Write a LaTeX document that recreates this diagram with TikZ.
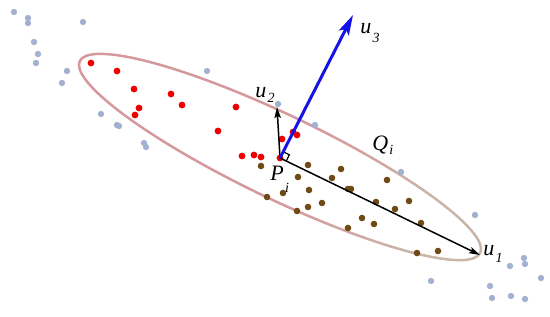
\documentclass[tikz,border=0pt]{standalone}
\usepackage{fontspec}
\setmainfont{Liberation Serif}
\usetikzlibrary{arrows.meta,calc}
\definecolor{ptgray}{HTML}{A3B1D1}
\definecolor{ptred}{HTML}{EE0000}
\definecolor{ptbrown}{HTML}{704A14}
\definecolor{axblue}{HTML}{1414E6}
\definecolor{elpink}{HTML}{D5999D}
\definecolor{eltan}{HTML}{C9B6A9}
\newcommand{\vlab}[3][4pt]{\fontsize{11}{11}\selectfont\textit{#2}\kern0.6pt\raisebox{-#1}{\fontsize{7}{7}\selectfont\textit{#3}}}

\begin{document}
\begin{tikzpicture}[x=0.5pt,y=-0.5pt,>=Stealth,
  gdot/.style={fill=ptgray},
  rdot/.style={fill=ptred},
  bdot/.style={fill=ptbrown},
  ax/.style={black,line width=0.75pt,-{Stealth[length=5.5pt,width=3.2pt,inset=1pt]}},
  bax/.style={axblue,line width=1.5pt,-{Stealth[length=10pt,width=5.5pt,inset=2pt]}},
  lb/.style={anchor=base west,inner sep=0pt}]
  \useasboundingbox (0,0) rectangle (550,316);
  % hull of the neighbourhood
  \begin{scope}[shift={(280,157)},rotate=-25.6]
    \foreach \a in {0,10,...,350}{
      \pgfmathsetmacro\m{max(0,min(100,(cos(\a+5)-0.1)*160))}
      \draw[eltan!\m!elpink,line width=1.25pt,line cap=round]
        (\a:222 and 42) arc[start angle=\a,end angle=\a+10,x radius=222,y radius=42];
    }
  \end{scope}
  % points
  \foreach \p in {(14,12),(28,18),(28,23),(83,22),(34,42),(38,54),(36,63),(67,71),(62,83),
    (207,71),(101,114),(117,125),(119,126),(144,143),(146,147),(278,104),(315,125),(401,172),
    (475,215),(431,281),(490,286),(510,266),(524,258),(525,264),(541,278),(492,298),(511,296),(525,299)}
    \fill[gdot] \p circle[radius=3.2];
  \foreach \p in {(91,63),(117,71),(134,89),(171,94),(182,105),(139,108),(135,115),(236,107),
    (218,131),(242,156),(254,155),(261,157),(282,139),(293,132),(297,135),(280,158)}
    \fill[rdot] \p circle[radius=3.4];
  \foreach \p in {(261,166),(308,165),(341,169),(298,177),(332,178),(387,180),(309,190),(283,193),
    (348,189),(351,189),(267,197),(376,202),(409,201),(322,203),(308,207),(297,211),(395,209),
    (362,218),(374,224),(421,223),(348,228),(417,253),(438,251)}
    \fill[bdot] \p circle[radius=3.3];
  % axes at P_i
  \coordinate (Pi) at (280,158);
  \coordinate (t1) at (480,255);
  \coordinate (t2) at (277,107);
  \coordinate (t3) at (353,15);
  \coordinate (ra) at ($(Pi)!3.5pt!(t1)$);
  \coordinate (rb) at ($(Pi)!3.5pt!90:(t1)$);
  \draw[black,line width=0.6pt] (ra) -- ($(ra)+(rb)-(Pi)$) -- (rb);
  \draw[ax] (Pi) -- (t1);
  \draw[ax] (Pi) -- (t2);
  \draw[bax] (Pi) -- (t3);
  % labels
  \node[lb] (lu1) at (483,255) {\vlab[3.5pt]{u}{1}};
  \node[lb] (lu2) at (255,97) {\vlab[2.5pt]{u}{2}};
  \node[lb] (lu3) at (360,33) {\vlab[4.5pt]{u}{3}};
  \node[lb] (lP) at (270,180) {\vlab[6pt]{P}{i}};
  \node[lb] (lQ) at (372,150) {\vlab[2pt]{Q}{i}};
\end{tikzpicture}
\end{document}
